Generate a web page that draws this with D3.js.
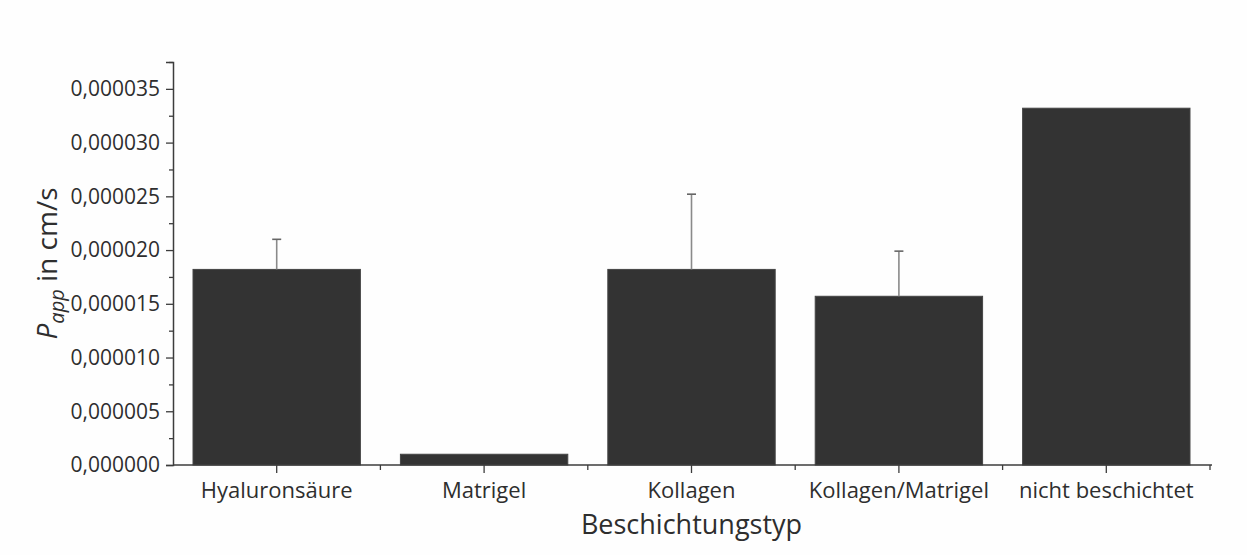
<!DOCTYPE html>
<html>
<head>
<meta charset="utf-8">
<script src="https://cdn.jsdelivr.net/npm/d3@7"></script>
<style>
  html, body { margin: 0; padding: 0; background: #fefefe; }
  svg { display: block; }
  text { font-family: "Open Sans", "Noto Sans", sans-serif; fill: #2e2e2e; }
</style>
</head>
<body>
<svg id="chart" width="1247" height="555"></svg>
<script>
// Coating types and their apparent permeability (cm/s), mean and SD
const categories = ["Hyaluronsäure", "Matrigel", "Kollagen", "Kollagen/Matrigel", "nicht beschichtet"];
const papp = [0.0000182, 0.0000010, 0.0000182, 0.0000157, 0.0000332];
const pappSd = [0.0000028, 0, 0.0000070, 0.0000042, 0];

const yTicks = [0, 0.000005, 0.000010, 0.000015, 0.000020, 0.000025, 0.000030, 0.000035];
const yTickLabels = ["0,000000", "0,000005", "0,000010", "0,000015", "0,000020", "0,000025", "0,000030", "0,000035"];
const yMinorTicks = [0.0000025, 0.0000075, 0.0000125, 0.0000175, 0.0000225, 0.0000275, 0.0000325, 0.0000375];
const yMax = 0.0000375;

const xTitle = "Beschichtungstyp";

const svg = d3.select("#chart");
const axisColor = "#3c3c3c";

const x = d3.scaleBand()
  .domain(categories)
  .range([173, 1210])
  .paddingInner(0.193)
  .paddingOuter(0.0965);

const y = d3.scaleLinear()
  .domain([0, yMax])
  .range([465, 62]);

// bars
svg.append("g")
  .selectAll("rect")
  .data(categories)
  .join("rect")
  .attr("x", d => x(d))
  .attr("width", x.bandwidth())
  .attr("y", (d, i) => y(papp[i]))
  .attr("height", (d, i) => y(0) - y(papp[i]))
  .attr("fill", "#333333")
  .attr("stroke", "#444")
  .attr("stroke-width", 1);

// upper error bars
const err = svg.append("g")
  .attr("stroke", "#8a8a8a")
  .attr("stroke-width", 1.6);
categories.forEach((c, i) => {
  if (!pappSd[i]) return;
  const cx = x(c) + x.bandwidth() / 2;
  err.append("line")
    .attr("x1", cx).attr("x2", cx)
    .attr("y1", y(papp[i])).attr("y2", y(papp[i] + pappSd[i]));
  err.append("line")
    .attr("x1", cx - 4.5).attr("x2", cx + 4.5)
    .attr("y1", y(papp[i] + pappSd[i])).attr("y2", y(papp[i] + pappSd[i]))
    .attr("stroke", "#666");
});

// y axis with major and minor ticks
const yAxis = d3.axisLeft(y)
  .tickValues(yTicks)
  .tickFormat((d, i) => yTickLabels[i])
  .tickSizeOuter(0)
  .tickSize(7)
  .tickPadding(6);
const gy = svg.append("g")
  .attr("transform", "translate(173,0)")
  .call(yAxis);
gy.select(".domain").attr("stroke", axisColor).attr("stroke-width", 1.5);
gy.selectAll(".tick line").attr("stroke", axisColor).attr("stroke-width", 1.3);
gy.selectAll(".tick text")
  .attr("font-family", "Open Sans")
  .attr("font-size", 21)
  .attr("fill", "#2e2e2e");

svg.append("g")
  .attr("transform", "translate(173,0)")
  .call(d3.axisLeft(y).tickValues(yMinorTicks).tickSize(4).tickFormat(""))
  .call(g => g.select(".domain").remove())
  .selectAll(".tick line").attr("stroke", axisColor).attr("stroke-width", 1.3);

// x axis: major ticks at band centres, minor ticks at band boundaries
const xAxis = d3.axisBottom(x)
  .tickSize(8)
  .tickSizeOuter(0)
  .tickPadding(9);
const gx = svg.append("g")
  .attr("transform", "translate(0,465)")
  .call(xAxis);
gx.select(".domain")
  .attr("stroke", axisColor)
  .attr("stroke-width", 1.5)
  .attr("d", `M${x.range()[0]},0H${x.range()[1] + 2}`);
gx.selectAll(".tick line").attr("stroke", axisColor).attr("stroke-width", 1.3);
gx.selectAll(".tick text")
  .attr("font-family", "Open Sans")
  .attr("font-size", 22)
  .attr("fill", "#2e2e2e");

const boundaries = categories.slice(1).map(c => x(c) - x.step() * x.paddingInner() / 2)
  .concat([x.range()[1]]);
svg.append("g")
  .selectAll("line")
  .data(boundaries)
  .join("line")
  .attr("x1", d => d).attr("x2", d => d)
  .attr("y1", 465).attr("y2", 470)
  .attr("stroke", axisColor)
  .attr("stroke-width", 1.3);

// axis titles
svg.append("text")
  .attr("x", (x.range()[0] + x.range()[1]) / 2)
  .attr("y", 534)
  .attr("text-anchor", "middle")
  .attr("font-size", 27)
  .text(xTitle);

const yt = svg.append("text")
  .attr("transform", `translate(57,${(y(0) + y(yMax)) / 2}) rotate(-90)`)
  .attr("text-anchor", "middle")
  .attr("font-size", 28);
yt.append("tspan").attr("font-style", "italic").text("P");
yt.append("tspan").attr("font-style", "italic").attr("font-size", 20).attr("dy", 7).text("app");
yt.append("tspan").attr("dy", -7).text(" in cm/s");
</script>
</body>
</html>
